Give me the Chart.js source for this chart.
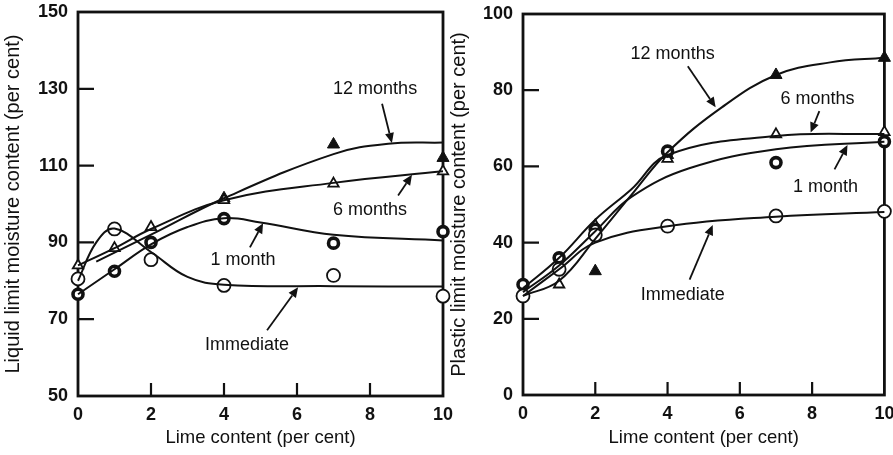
<!DOCTYPE html>
<html>
<head>
<meta charset="utf-8">
<script src="https://cdn.jsdelivr.net/npm/chart.js@4.4.0/dist/chart.umd.min.js"></script>
<style>
  html, body { margin: 0; padding: 0; background: #fff; }
  #wrap { position: relative; width: 893px; height: 455px; overflow: hidden; background: #fff; }
  canvas { position: absolute; top: 0; }
  #liquid { left: 0; }
  #plastic { left: 446px; }
</style>
</head>
<body>
<div id="wrap">
  <canvas id="liquid" width="465" height="455"></canvas>
  <canvas id="plastic" width="447" height="455"></canvas>
</div>
<script>
// lime content (per cent) at which samples were tested
const limeContent = [0, 1, 2, 4, 7, 10];

// liquid limit, measured points (null = hidden under other marks)
const llImmediate = [80.5, 93.5, 85.5, 78.8, 81.4, 76];
const llOneMonth = [76.5, 82.5, 90, 96.2, 89.8, 92.8];
const llSixMonths = [84, 88.5, 94, 101, 105.3, 108.5];
const llTwelveMonths = [null, null, null, 101.5, 115.5, 112];

// liquid limit, fitted curves
const llImmediateCurveX = [0, 0.5, 1, 2, 3, 4, 7, 10];
const llImmediateCurveY = [80, 90, 93.6, 87.5, 81, 79, 78.6, 78.5];
const llOneMonthCurveX = [0, 1, 2, 3, 4, 5, 7, 10];
const llOneMonthCurveY = [76.5, 83, 89.5, 94, 96.3, 95.2, 92, 90.5];
const llSixMonthsCurveX = [0, 1, 2, 4, 7, 10];
const llSixMonthsCurveY = [84, 88.5, 93.5, 101, 105.5, 108.5];
const llTwelveMonthsCurveX = [0.5, 2, 4, 7, 8.5, 10];
const llTwelveMonthsCurveY = [85, 92, 101.5, 113, 115.7, 116];

// plastic limit, measured points
const plImmediate = [26, 33, 42, 44.3, 47, 48.2];
const plOneMonth = [29, 36, 43.5, 64, 61, 66.5];
const plSixMonths = [null, 29, 44.5, 62, 68.4, 69];
const plTwelveMonths = [null, null, 32.5, 63, 84, 88.5];

// plastic limit, fitted curves
const plImmediateCurveX = [0, 1, 2, 4, 7, 10];
const plImmediateCurveY = [26, 33, 40, 44.3, 46.8, 48];
const plOneMonthCurveX = [0, 1, 2, 3, 4.6, 7, 10];
const plOneMonthCurveY = [27, 34, 43, 52, 59.5, 64.5, 66.5];
const plSixMonthsCurveX = [0, 1, 2, 3, 4, 7, 10];
const plSixMonthsCurveY = [28, 36, 46, 54, 63, 68, 68.5];
const plTwelveMonthsCurveX = [0, 1, 2, 3, 4, 5.5, 7, 8.5, 10];
const plTwelveMonthsCurveY = [26, 30, 41, 52.5, 63.7, 75.5, 84, 87.3, 88.5];

const xTicks = [0, 2, 4, 6, 8, 10];

const FONT = '"Liberation Sans", Arial, sans-serif';
const INK = '#111';

function pts(xs, ys) {
  return xs.map((x, i) => ({ x: x, y: ys[i] })).filter(p => p.y !== null);
}

const markStyles = {
  immediate: { pointStyle: 'circle', pointRadius: 6.5, pointBorderWidth: 1.8, pointBackgroundColor: '#fff' },
  oneMonth: { pointStyle: 'circle', pointRadius: 5, pointBorderWidth: 3.6, pointBackgroundColor: '#fff' },
  sixMonths: { pointStyle: 'triangle', pointRadius: 6, pointBorderWidth: 1.8, pointBackgroundColor: '#fff' },
  twelveMonths: { pointStyle: 'triangle', pointRadius: 7, pointBorderWidth: 1, pointBackgroundColor: INK }
};

function curve(label, xs, ys) {
  return {
    label: label, data: pts(xs, ys), showLine: true, pointRadius: 0,
    borderColor: INK, borderWidth: 2, tension: 0.4, clip: false
  };
}

function marks(label, ys, style) {
  return Object.assign({
    label: label, data: pts(limeContent, ys), showLine: false,
    pointBorderColor: INK, clip: false
  }, markStyles[style]);
}

// frame, inward ticks and the labelled arrows
const framePlugin = {
  id: 'frame',
  beforeDatasetsDraw(chart, args, opts) {
    const { ctx, chartArea: a, scales } = chart;
    ctx.save();
    ctx.strokeStyle = INK;
    ctx.lineWidth = 2.8;
    ctx.strokeRect(a.left, a.top, a.right - a.left, a.bottom - a.top);
    ctx.lineWidth = 2.2;
    ctx.beginPath();
    scales.y.ticks.forEach(t => {
      if (t.value === scales.y.min || t.value === scales.y.max) return;
      const y = scales.y.getPixelForValue(t.value);
      ctx.moveTo(a.left, y);
      ctx.lineTo(a.left + 16, y);
    });
    scales.x.ticks.forEach(t => {
      if (t.value === scales.x.min || t.value === scales.x.max) return;
      const x = scales.x.getPixelForValue(t.value);
      ctx.moveTo(x, a.bottom);
      ctx.lineTo(x, a.bottom - 13);
    });
    ctx.stroke();
    ctx.restore();
  },
  afterDatasetsDraw(chart, args, opts) {
    const { ctx, scales } = chart;
    const X = v => scales.x.getPixelForValue(v);
    const Y = v => scales.y.getPixelForValue(v);
    ctx.save();
    ctx.fillStyle = INK;
    ctx.strokeStyle = INK;
    ctx.font = '18px ' + FONT;
    ctx.textAlign = 'center';
    ctx.textBaseline = 'middle';
    (opts.notes || []).forEach(n => {
      ctx.fillText(n.label, X(n.at[0]), Y(n.at[1]));
      const x1 = X(n.from[0]), y1 = Y(n.from[1]);
      const x2 = X(n.to[0]), y2 = Y(n.to[1]);
      const ang = Math.atan2(y2 - y1, x2 - x1);
      const hl = 10, hw = 4.5;
      ctx.lineWidth = 1.8;
      ctx.beginPath();
      ctx.moveTo(x1, y1);
      ctx.lineTo(x2 - hl * Math.cos(ang), y2 - hl * Math.sin(ang));
      ctx.stroke();
      ctx.beginPath();
      ctx.moveTo(x2, y2);
      ctx.lineTo(x2 - hl * Math.cos(ang) + hw * Math.sin(ang), y2 - hl * Math.sin(ang) - hw * Math.cos(ang));
      ctx.lineTo(x2 - hl * Math.cos(ang) - hw * Math.sin(ang), y2 - hl * Math.sin(ang) + hw * Math.cos(ang));
      ctx.closePath();
      ctx.fill();
    });
    ctx.restore();
  }
};

function makeChart(id, cfg) {
  return new Chart(document.getElementById(id), {
    type: 'scatter',
    data: { datasets: cfg.datasets },
    options: {
      responsive: false,
      animation: false,
      devicePixelRatio: 1,
      layout: { padding: { top: cfg.top, right: cfg.right, left: 0, bottom: 0 } },
      plugins: {
        legend: { display: false },
        tooltip: { enabled: false },
        frame: { notes: cfg.notes }
      },
      scales: {
        x: {
          type: 'linear', min: 0, max: 10,
          afterBuildTicks: s => { s.ticks = xTicks.map(v => ({ value: v })); },
          grid: { display: false, drawTicks: false },
          border: { display: false },
          ticks: { color: INK, padding: 8, font: { family: FONT, size: 18, weight: 'bold' } },
          title: {
            display: true, text: 'Lime content (per cent)', color: INK,
            font: { family: FONT, size: 18.5 }, padding: { top: 0, bottom: 6 }
          },
          afterFit: s => { s.height = cfg.xHeight; s.paddingLeft = 0; s.paddingRight = 0; }
        },
        y: {
          type: 'linear', min: cfg.yMin, max: cfg.yMax,
          afterBuildTicks: s => { s.ticks = cfg.yTicks.map(v => ({ value: v })); },
          grid: { display: false, drawTicks: false },
          border: { display: false },
          ticks: { color: INK, padding: 10, font: { family: FONT, size: 18, weight: 'bold' } },
          title: {
            display: true, text: cfg.yTitle, color: INK,
            font: { family: FONT, size: 20 }, padding: { top: 1, bottom: 0 }
          },
          afterFit: s => { s.width = cfg.yWidth; s.paddingTop = 0; s.paddingBottom = 0; }
        }
      }
    },
    plugins: [framePlugin]
  });
}

makeChart('liquid', {
  yMin: 50, yMax: 150, yTicks: [50, 70, 90, 110, 130, 150],
  yTitle: 'Liquid limit moisture content (per cent)',
  top: 12, right: 22, yWidth: 78, xHeight: 59,
  datasets: [
    curve('Immediate', llImmediateCurveX, llImmediateCurveY),
    curve('1 month', llOneMonthCurveX, llOneMonthCurveY),
    curve('6 months', llSixMonthsCurveX, llSixMonthsCurveY),
    curve('12 months', llTwelveMonthsCurveX, llTwelveMonthsCurveY),
    marks('Immediate', llImmediate, 'immediate'),
    marks('1 month', llOneMonth, 'oneMonth'),
    marks('6 months', llSixMonths, 'sixMonths'),
    marks('12 months', llTwelveMonths, 'twelveMonths')
  ],
  notes: [
    { label: '12 months', at: [8.14, 130], from: [8.33, 126.1], to: [8.6, 115.9] },
    { label: '6 months', at: [8.0, 98.3], from: [8.77, 102.2], to: [9.15, 107.6] },
    { label: '1 month', at: [4.52, 85.3], from: [4.71, 88.7], to: [5.07, 95.0] },
    { label: 'Immediate', at: [4.63, 63.2], from: [5.18, 67.1], to: [6.03, 78.3] }
  ]
});

makeChart('plastic', {
  yMin: 0, yMax: 100, yTicks: [0, 20, 40, 60, 80, 100],
  yTitle: 'Plastic limit moisture content (per cent)',
  top: 14, right: 8, yWidth: 77, xHeight: 60,
  datasets: [
    curve('Immediate', plImmediateCurveX, plImmediateCurveY),
    curve('1 month', plOneMonthCurveX, plOneMonthCurveY),
    curve('6 months', plSixMonthsCurveX, plSixMonthsCurveY),
    curve('12 months', plTwelveMonthsCurveX, plTwelveMonthsCurveY),
    marks('Immediate', plImmediate, 'immediate'),
    marks('1 month', plOneMonth, 'oneMonth'),
    marks('6 months', plSixMonths, 'sixMonths'),
    marks('12 months', plTwelveMonths, 'twelveMonths')
  ],
  notes: [
    { label: '12 months', at: [4.14, 89.5], from: [4.56, 86.3], to: [5.33, 75.5] },
    { label: '6 months', at: [8.15, 77.6], from: [8.2, 74.5], to: [7.96, 68.9] },
    { label: '1 month', at: [8.37, 54.7], from: [8.62, 59.2], to: [8.98, 65.6] },
    { label: 'Immediate', at: [4.42, 26.3], from: [4.61, 30.3], to: [5.25, 44.6] }
  ]
});
</script>
</body>
</html>
